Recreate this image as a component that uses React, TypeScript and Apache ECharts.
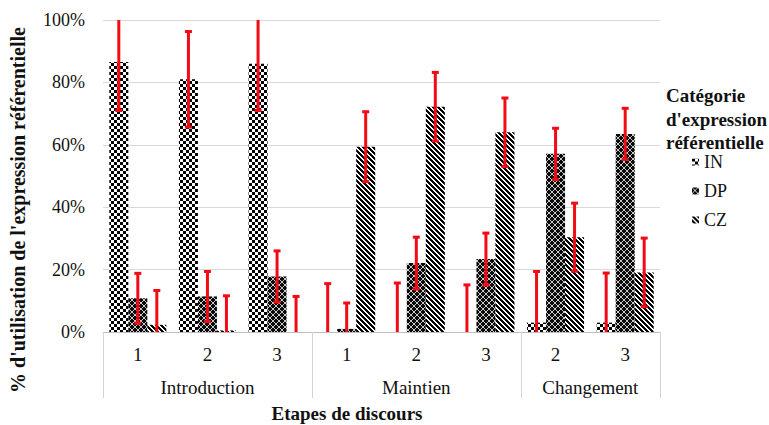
import React, { useEffect, useRef } from "react";
import * as echarts from "echarts";

// Discourse stages (first level) and their groups (second level)
const categories = ["1", "2", "3", "1", "2", "3", "2", "3"];
const groupNames = ["Introduction", "Maintien", "Changement"];
const groupSizes = [3, 3, 2];

// Share of use (%) for each referential expression type, with error margins
const seriesNames = ["IN", "DP", "CZ"];
const inValues = [86.5, 81, 86, 0, 0, 0, 3, 3];
const inErrors = [15.5, 15.3, 15, 15.5, 15.7, 15.1, 16.4, 15.9];
const dpValues = [10.8, 11.4, 17.8, 1, 22.1, 23.4, 57.1, 63.5];
const dpErrors = [8, 8, 8.2, 8.3, 8.3, 8.3, 8.2, 8.2];
const czValues = [2.3, 0.5, 0, 59.4, 72.2, 64, 30.4, 19.1];
const czErrors = [11, 11.1, 11.4, 11.2, 11, 11, 10.9, 11];

const yTicks = [0, 20, 40, 60, 80, 100];

const FONT = "Liberation Serif, serif";
const BAR_W = 19;
const RED = "#f20a14";
const INK = "#111";

type Painter = (x: number, y: number) => string;

function makePattern(size: number, paint: Painter) {
  const c = document.createElement("canvas");
  c.width = size;
  c.height = size;
  const ctx = c.getContext("2d")!;
  for (let y = 0; y < size; y++) {
    for (let x = 0; x < size; x++) {
      ctx.fillStyle = paint(x, y);
      ctx.fillRect(x, y, 1, 1);
    }
  }
  return { image: c, repeat: "repeat", imageWidth: size, imageHeight: size };
}

export default function App() {
  const ref = useRef<HTMLDivElement>(null);

  useEffect(() => {
    document.body.style.margin = "0";
    if (!ref.current) return;
    const chart = echarts.init(ref.current, null, { renderer: "svg" });

    const checker = makePattern(6, (x, y) =>
      (Math.floor(x / 3) + Math.floor(y / 3)) % 2 === 0 ? "#000" : "#fff"
    );
    const crossHatch = makePattern(6, (x, y) =>
      x === y || x + y === 5 ? "#c8c8c8" : "#0a0a0a"
    );
    const stripes = makePattern(5, (x, y) =>
      (x - y + 10) % 5 < 3 ? "#000" : "#fff"
    );
    const patterns = [checker, crossHatch, stripes];
    const values = [inValues, dpValues, czValues];
    const errors = [inErrors, dpErrors, czErrors];

    // group boundaries and centres on a 0..n value scale
    const bounds: number[] = [0];
    groupSizes.forEach((s) => bounds.push(bounds[bounds.length - 1] + s));
    const mids = groupNames.map((_, i) => (bounds[i] + bounds[i + 1]) / 2);

    const errorData: number[][] = [];
    values.forEach((vals, s) =>
      vals.forEach((v, i) => errorData.push([i, v, errors[s][i], s]))
    );

    const barSeries = seriesNames.map((name, s) => ({
      name,
      type: "bar",
      xAxisIndex: 0,
      barWidth: BAR_W,
      barGap: "0%",
      itemStyle: { color: patterns[s] },
      data: values[s],
    }));

    const yMax = yTicks[yTicks.length - 1];

    const titleText = (text: string, x: number, y: number, extra: any = {}) => ({
      type: "text",
      x,
      y,
      ...extra,
      style: {
        text,
        fontFamily: FONT,
        fontWeight: "bold",
        fontSize: extra.fontSize || 19,
        lineHeight: extra.lineHeight,
        fill: INK,
        align: extra.align || "center",
        verticalAlign: extra.verticalAlign || "middle",
      },
    });

    chart.setOption({
      animation: false,
      textStyle: { fontFamily: FONT },
      grid: { left: 103, top: 20, width: 557, height: 312 },
      legend: {
        data: seriesNames,
        orient: "vertical",
        left: 687,
        top: 148,
        itemWidth: 7,
        itemHeight: 7,
        itemGap: 11,
        icon: "rect",
        textStyle: { fontFamily: FONT, fontSize: 18, color: INK },
      },
      xAxis: [
        {
          type: "category",
          data: categories,
          position: "bottom",
          axisLine: { lineStyle: { color: "#bfbfbf", width: 1 } },
          axisTick: { show: false },
          axisLabel: { margin: 13, fontSize: 19, color: INK, fontFamily: FONT },
        },
        {
          type: "value",
          min: 0,
          max: bounds[bounds.length - 1],
          position: "bottom",
          offset: 0,
          axisLine: { show: false },
          splitLine: { show: false },
          axisTick: {
            show: true,
            customValues: bounds,
            length: 66,
            lineStyle: { color: "#d4d4d4", width: 1 },
          },
          axisLabel: {
            customValues: mids,
            margin: 46,
            fontSize: 19,
            color: INK,
            fontFamily: FONT,
            formatter: (v: number) => {
              const i = mids.findIndex((m) => Math.abs(m - v) < 1e-6);
              return i >= 0 ? groupNames[i] : "";
            },
          },
        },
      ],
      yAxis: {
        type: "value",
        min: 0,
        max: yMax,
        interval: yTicks[1] - yTicks[0],
        axisLine: { show: false },
        axisTick: { show: false },
        splitLine: { lineStyle: { color: "#d9d9d9", width: 1 } },
        axisLabel: {
          formatter: "{value}%",
          margin: 18,
          fontSize: 18,
          color: INK,
          fontFamily: FONT,
        },
      },
      graphic: [
        titleText("% d'utilisation de l'expression référentielle", 18, 210, {
          rotation: Math.PI / 2,
          fontSize: 20,
        }),
        titleText("Etapes de discours", 347, 413),
        titleText("Catégorie\nd'expression\nréférentielle", 666, 84, {
          align: "left",
          verticalAlign: "top",
          lineHeight: 23.5,
        }),
      ],
      series: [
        ...barSeries,
        {
          type: "custom",
          name: "errors",
          xAxisIndex: 0,
          z: 5,
          data: errorData,
          renderItem: (_params: any, api: any) => {
            const cat = api.value(0);
            const v = api.value(1);
            const e = api.value(2);
            const s = api.value(3);
            const lo = Math.max(0, v - e);
            const hi = Math.min(yMax, v + e);
            const pLo = api.coord([cat, lo]);
            const pHi = api.coord([cat, hi]);
            const x = pLo[0] + (s - 1) * BAR_W;
            const style = { stroke: RED, lineWidth: 3 };
            const children: any[] = [
              { type: "line", shape: { x1: x, y1: pLo[1], x2: x, y2: pHi[1] }, style },
            ];
            if (v - e > 0) {
              children.push({
                type: "line",
                shape: { x1: x - 3.5, y1: pLo[1], x2: x + 3.5, y2: pLo[1] },
                style,
              });
            }
            if (v + e < yMax) {
              children.push({
                type: "line",
                shape: { x1: x - 3.5, y1: pHi[1], x2: x + 3.5, y2: pHi[1] },
                style,
              });
            }
            return { type: "group", children };
          },
        },
      ],
    });

    return () => chart.dispose();
  }, []);

  return <div ref={ref} style={{ width: 769, height: 425 }} />;
}
